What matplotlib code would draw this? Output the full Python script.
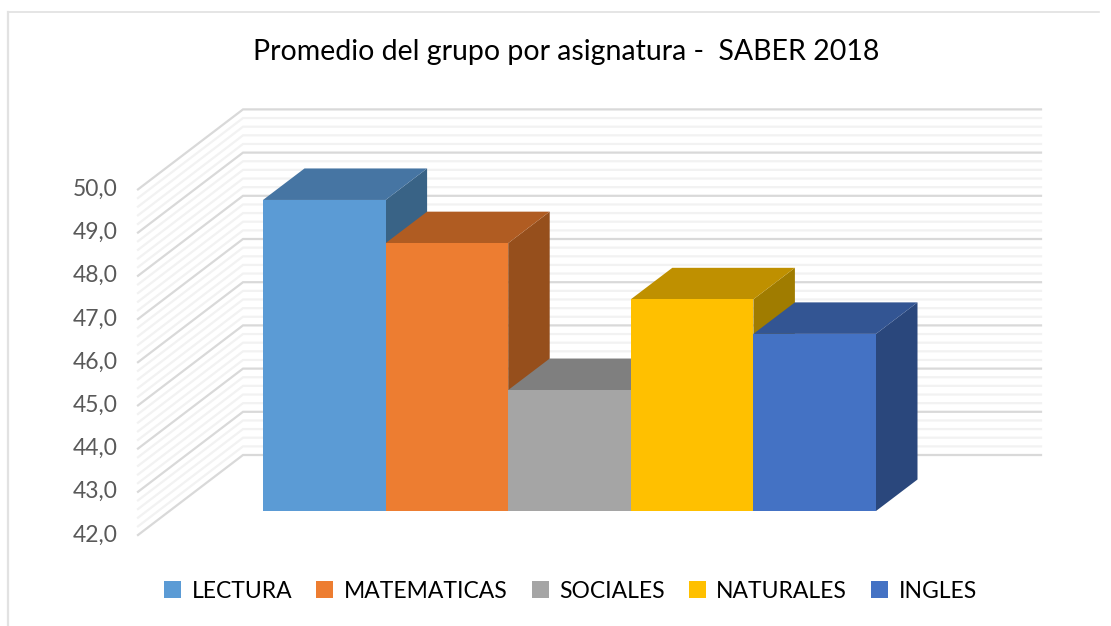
import numpy as np
import matplotlib
matplotlib.use("Agg")
import matplotlib.pyplot as plt
from matplotlib.patches import Polygon, Patch
from matplotlib.lines import Line2D

categories = ["LECTURA", "MATEMATICAS", "SOCIALES", "NATURALES", "INGLES"]
values = [49.2, 48.2, 44.8, 46.9, 46.1]
front_colors = ["#5B9BD5", "#ED7D31", "#A5A5A5", "#FFC000", "#4472C4"]
top_colors = ["#4675A3", "#B05C22", "#7F7F7F", "#BF9000", "#335593"]
side_colors = ["#396386", "#964F1C", "#6B6B6B", "#A07C00", "#2A477C"]
major_ticks = [42, 43, 44, 45, 46, 47, 48, 49, 50]
tick_labels = ["42,0", "43,0", "44,0", "45,0", "46,0", "47,0", "48,0", "49,0", "50,0"]
minor_ticks = [m + k * 0.2 for m in major_ticks[:-1] for k in range(1, 5)]
title = "Promedio del grupo por asignatura -  SABER 2018"

W, H = 1111, 626
plt.rcParams["font.family"] = ["Lato", "DejaVu Sans"]
fig = plt.figure(figsize=(W / 100, H / 100), dpi=100)
ax = fig.add_axes([0, 0, 1, 1])

# scale: one category = 122.6 px, one unit = 43.2 px; value 42 at y=511 px
PX, PY = 122.6, 43.2
X0 = 263 + PX / 2
ax.set_xlim((0 - X0) / PX, (W - X0) / PX)
ax.set_ylim(42 + (511 - H) / PY, 42 + 511 / PY)
ax.axis("off")

# 3-D offsets, in data units
bar_dx, bar_dy = 41.5 / PX, 31.5 / PY
wall_front_x = (138 - X0) / PX
wall_back_x = (243 - X0) / PX
wall_right_x = (1041 - X0) / PX
front_dy, back_dy = -24 / PY, 56 / PY


def gridline(v, color, lw):
    ax.plot([wall_front_x, wall_back_x, wall_right_x],
            [v + front_dy, v + back_dy, v + back_dy],
            color=color, lw=lw, solid_joinstyle="miter", zorder=1)


for v in minor_ticks:
    gridline(v, "#F2F2F2", 1.6)
for v in major_ticks:
    gridline(v, "#D9D9D9", 1.6)

for v, lab in zip(major_ticks, tick_labels):
    ax.text(wall_front_x - 20 / PX, v + front_dy, lab, ha="right", va="center",
            fontsize=16.5, color="#595959")

for i, v in enumerate(values):
    l, r = i - 0.5, i + 0.5
    ax.add_patch(Polygon([(r, 42), (r + bar_dx, 42 + bar_dy), (r + bar_dx, v + bar_dy), (r, v)],
                         fc=side_colors[i], ec="none", zorder=2 + i))
    ax.add_patch(Polygon([(l, v), (l + bar_dx, v + bar_dy), (r + bar_dx, v + bar_dy), (r, v)],
                         fc=top_colors[i], ec="none", zorder=2 + i))
    ax.add_patch(Polygon([(l, 42), (r, 42), (r, v), (l, v)],
                         fc=front_colors[i], ec="none", zorder=2 + i))

# chart frame (top and left edge of the embedded picture)
fig.add_artist(Line2D([7.5 / W, 1 - 12 / W], [1 - 11.5 / H] * 2, color="#E0E0E0", lw=1.2))
fig.add_artist(Line2D([7.5 / W] * 2, [0, 1 - 11.5 / H], color="#E2E2E2", lw=1.6))

fig.text(566 / W, 1 - 52 / H, title, ha="center", va="center", fontsize=20.5, color="black")

handles = [Patch(fc=c, ec="none") for c in front_colors]
fig.legend(handles, categories, loc="center", bbox_to_anchor=(570.5 / W, 1 - 591 / H), ncol=5,
           frameon=False, fontsize=16.5, handlelength=0.75, handleheight=0.75,
           handletextpad=0.45, columnspacing=1.05, labelcolor="black", borderpad=0)

fig.savefig("out.png", dpi=100, facecolor="white")
